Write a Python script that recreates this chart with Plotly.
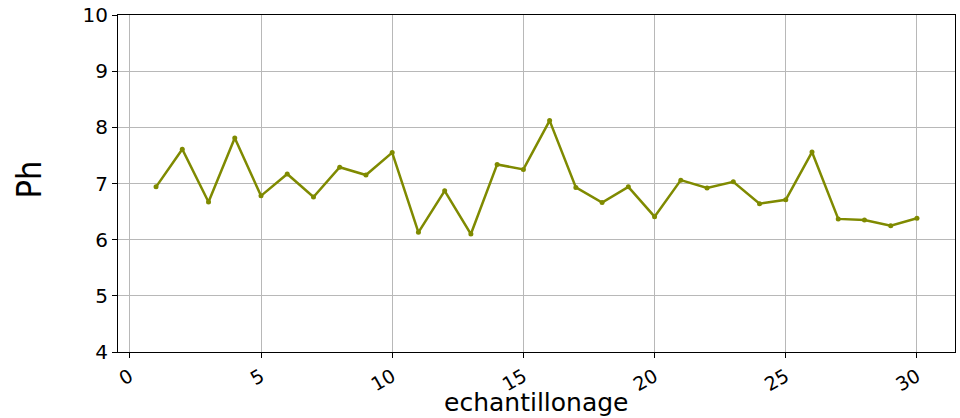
import plotly.graph_objects as go

echantillons = list(range(1, 31))
ph = [6.94, 7.61, 6.67, 7.81, 6.78, 7.17, 6.76, 7.29, 7.15, 7.55,
      6.13, 6.87, 6.10, 7.34, 7.25, 8.12, 6.93, 6.66, 6.94, 6.41,
      7.06, 6.92, 7.03, 6.64, 6.71, 7.56, 6.37, 6.35, 6.25, 6.38]
x_ticks = [0, 5, 10, 15, 20, 25, 30]
y_ticks = [4, 5, 6, 7, 8, 9, 10]

fig = go.Figure()
fig.add_trace(go.Scatter(
    x=echantillons, y=ph, mode="lines+markers",
    line=dict(color="#7f8a00", width=2.5),
    marker=dict(color="#7f8a00", size=5),
))

axis_style = dict(
    showline=True, linecolor="black", linewidth=1.2, mirror=True,
    ticks="outside", ticklen=5, tickcolor="black",
    showgrid=True, gridcolor="#b8b8b8", gridwidth=1,
    zeroline=False, automargin=False,
)

fig.update_xaxes(**axis_style, range=[-0.45, 31.45], tickvals=x_ticks, tickangle=-30,
                 tickfont=dict(family="DejaVu Sans", size=19, color="black"))
fig.update_yaxes(**axis_style, range=[4, 10], tickvals=y_ticks,
                 tickfont=dict(family="DejaVu Sans", size=20, color="black"))

# axis titles placed as annotations for tighter control
fig.add_annotation(text="echantillonage", xref="paper", yref="paper", x=0.5, y=-0.151,
                   xanchor="center", yanchor="middle", showarrow=False,
                   font=dict(family="DejaVu Sans", size=25, color="black"))
fig.add_annotation(text="Ph", xref="paper", yref="paper", x=-0.106, y=0.513,
                   xanchor="center", yanchor="middle", showarrow=False, textangle=-90,
                   font=dict(family="DejaVu Sans Condensed, DejaVu Sans", size=34, color="black"))

fig.update_layout(
    width=960, height=418,
    margin=dict(l=118, r=5, t=15, b=66, autoexpand=False),
    plot_bgcolor="white", paper_bgcolor="white",
    showlegend=False,
)

# drop the browser's default page margin so the figure fills the window
fig.write_html("out.html", config={"displayModeBar": False},
               post_script="document.body.style.margin='0';")
